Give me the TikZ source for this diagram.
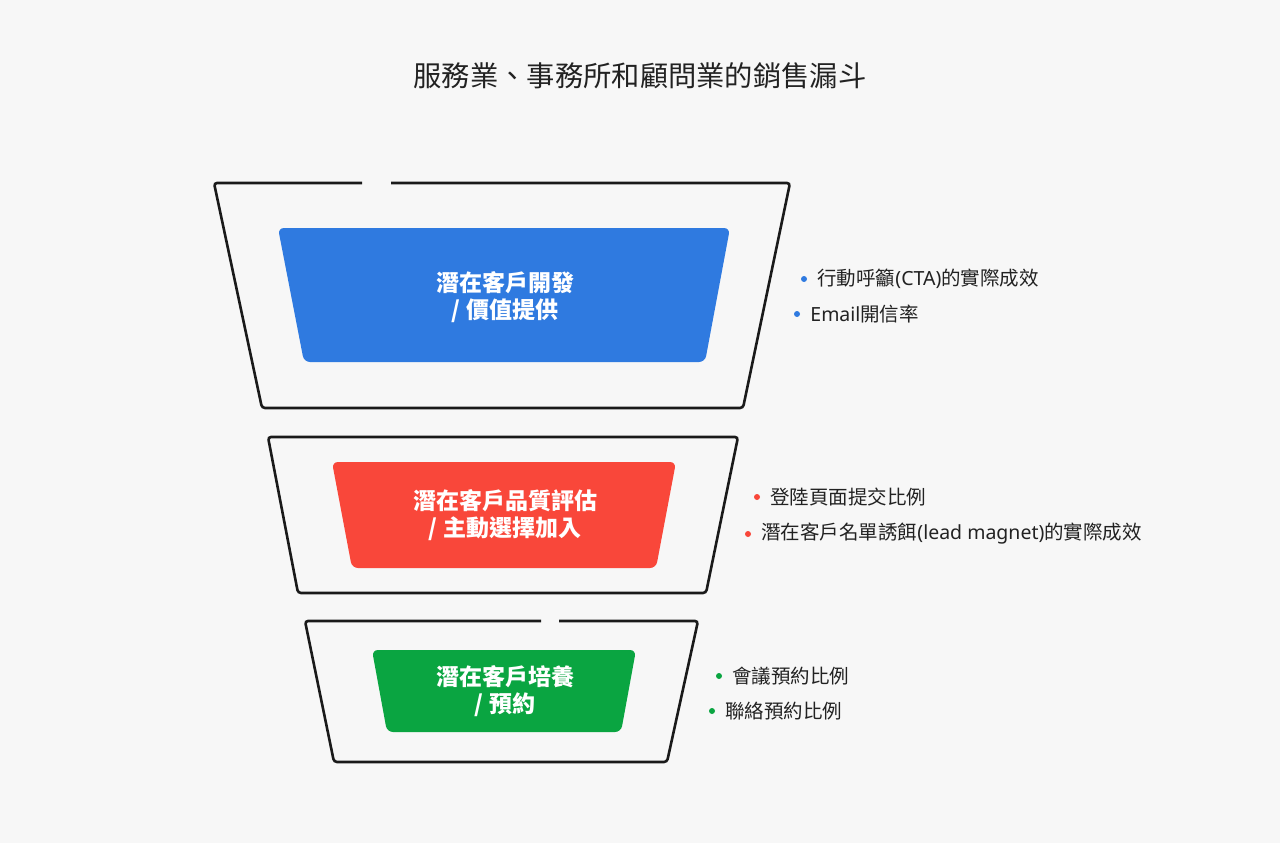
\documentclass[tikz,border=0pt]{standalone}
\usepackage{fontspec}
\setmainfont{Noto Sans CJK TC}
\newfontfamily\latin{Noto Sans}
\usetikzlibrary{positioning}
\definecolor{bgcol}{HTML}{F7F7F7}
\definecolor{linecol}{HTML}{1A1A1A}
\definecolor{textcol}{HTML}{222222}
\definecolor{bluecol}{HTML}{2F7AE0}
\definecolor{redcol}{HTML}{F9473A}
\definecolor{greencol}{HTML}{0AA541}

\begin{document}
\begin{tikzpicture}[
x=1pt, y=-1pt,
funnel/.style={draw=linecol, line width=2.6pt, rounded corners=3pt},
stage/.style={rounded corners=6pt},
stagetext/.style={text=white, align=center, font=\fontsize{23}{27}\selectfont\bfseries},
dot/.style={circle, inner sep=0pt, minimum size=6pt},
item/.style={text=textcol, inner sep=0pt, font=\fontsize{19.5}{22}\selectfont},
]
\fill[bgcol] (0,0) rectangle (1280,843);
\useasboundingbox (0,0) rectangle (1280,843);

%Title
\node[text=textcol, font=\fontsize{28.3}{32}\selectfont] (title) at (640,76) {服務業、事務所和顧問業的銷售漏斗};

%Funnels
\draw[funnel] (391,183) -- (790,183) -- (743,408) -- (262,408) -- (214,183) -- (362,183);
\draw[funnel] (268,437) -- (738,437) -- (706,593) -- (298,593) -- cycle;
\draw[funnel] (559,621) -- (698,621) -- (667,762) -- (334,762) -- (305,621) -- (541,621);

%Stages
\fill[stage, bluecol] (278,228) -- (730,228) -- (705,362) -- (304,362) -- cycle;
\fill[stage, redcol] (332,462) -- (676,462) -- (656,568) -- (352,568) -- cycle;
\fill[stage, greencol] (372,650) -- (636,650) -- (621,732) -- (387,732) -- cycle;

\node[stagetext] (s1) at (505,297) {潛在客戶開發\\/ 價值提供};
\node[stagetext] (s2) at (505,515) {潛在客戶品質評估\\/ 主動選擇加入};
\node[stagetext] (s3) at (505,691) {潛在客戶培養\\/ 預約};

%Metrics
\node[dot, fill=bluecol] (d1) at (804,279) {};
\node[item] (m1) [right=10pt of d1] {行動呼籲{\latin(CTA)}的實際成效};
\node[dot, fill=bluecol] (d2) at (797,314) {};
\node[item] (m2) [right=10pt of d2] {{\latin Email}開信率};

\node[dot, fill=redcol] (d3) at (757,497) {};
\node[item] (m3) [right=10pt of d3] {登陸頁面提交比例};
\node[dot, fill=redcol] (d4) at (748,534) {};
\node[item] (m4) [right=10pt of d4] {潛在客戶名單誘餌{\latin(lead magnet)}的實際成效};

\node[dot, fill=greencol] (d5) at (719,676) {};
\node[item] (m5) [right=10pt of d5] {會議預約比例};
\node[dot, fill=greencol] (d6) at (712,711) {};
\node[item] (m6) [right=10pt of d6] {聯絡預約比例};
\end{tikzpicture}
\end{document}
